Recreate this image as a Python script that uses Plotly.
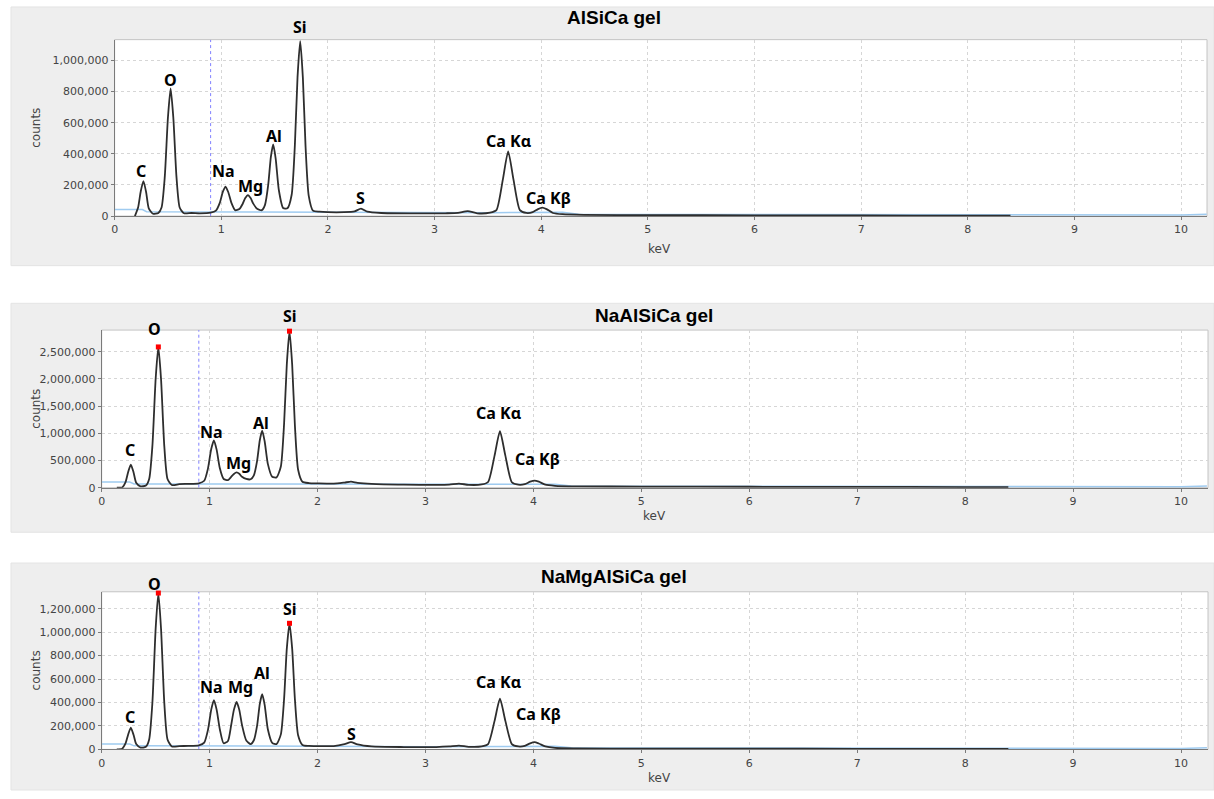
import plotly.graph_objects as go

# --- data (energy in keV, counts in thousands) ---
energy_kev = [
    0.00, 0.14, 0.19, 0.22, 0.245, 0.27, 0.295, 0.32, 0.36, 0.41,
    0.44, 0.47, 0.50, 0.525, 0.55, 0.58, 0.61, 0.65, 0.72, 0.80,
    0.90, 0.95, 0.985, 1.015, 1.04, 1.065, 1.095, 1.13, 1.17, 1.20,
    1.225, 1.25, 1.275, 1.30, 1.34, 1.38, 1.41, 1.44, 1.465, 1.487,
    1.51, 1.54, 1.58, 1.62, 1.66, 1.69, 1.715, 1.74, 1.765, 1.79,
    1.82, 1.86, 1.92, 2.00, 2.15, 2.25, 2.31, 2.37, 2.50, 2.80,
    3.10, 3.22, 3.31, 3.40, 3.52, 3.58, 3.64, 3.69, 3.74, 3.80,
    3.86, 3.92, 3.97, 4.01, 4.05, 4.11, 4.20, 4.40, 5.00, 6.00,
    7.00, 8.00, 8.40,
]

counts_alsica = [
    None, None, 0, 55, 160, 225, 155, 50, 15, 20,
    55, 250, 635, 820, 635, 250, 55, 18, 20, 18,
    22, 35, 83, 157, 190, 155, 85, 38, 45, 78,
    116, 135, 116, 80, 45, 38, 72, 200, 380, 460,
    370, 166, 52, 50, 137, 455, 893, 1125, 890, 450,
    130, 35, 28, 25, 25, 30, 48, 28, 20, 18,
    18, 20, 32, 18, 22, 38, 234, 416, 234, 38,
    20, 25, 45, 55, 45, 20, 12, 8, 6, 5,
    4, 3, 3,
]

counts_naalsica = [
    None, 0, 5, 98, 286, 425, 285, 90, 25, 40,
    158, 772, 2000, 2590, 2000, 770, 160, 50, 65, 70,
    80, 127, 356, 712, 870, 700, 356, 160, 140, 200,
    253, 280, 255, 200, 160, 155, 228, 494, 873, 1050,
    855, 434, 200, 190, 390, 1176, 2263, 2880, 2260, 1150,
    330, 110, 85, 80, 75, 95, 110, 90, 70, 55,
    50, 55, 75, 52, 60, 105, 590, 1040, 590, 100,
    55, 65, 110, 130, 110, 55, 35, 25, 20, 17,
    15, 12, 10,
]

counts_namgalsica = [
    None, 0, 5, 48, 125, 185, 125, 45, 15, 22,
    85, 400, 1029, 1333, 1029, 400, 85, 25, 28, 30,
    35, 58, 168, 339, 420, 339, 170, 52, 72, 208,
    337, 405, 337, 208, 75, 45, 78, 203, 388, 470,
    380, 169, 55, 45, 128, 430, 857, 1075, 857, 430,
    120, 38, 30, 28, 28, 45, 62, 42, 25, 20,
    20, 25, 32, 22, 25, 45, 243, 432, 243, 45,
    25, 30, 52, 62, 50, 25, 12, 8, 6, 6,
    5, 4, 4,
]

# background (blue) line
bg_kev = [0.0, 0.26, 0.30, 1.0, 2.0, 3.0, 3.55, 4.2, 4.35, 6.0, 8.0, 10.0, 10.24]
bg_alsica = [42, 42, 28, 27, 24, 20, 22, 24, 12, 10, 8, 7, 12]
bg_naalsica = [105, 105, 70, 68, 62, 52, 58, 62, 30, 25, 20, 18, 30]
bg_namgalsica = [45, 45, 30, 30, 27, 22, 25, 27, 13, 11, 9, 8, 13]

# marked maxima (keV, counts in thousands)
max_kev_naalsica = [0.525, 1.74]
max_counts_naalsica = [2590, 2880]
max_kev_namgalsica = [0.525, 1.74]
max_counts_namgalsica = [1333, 1075]

marker_kev = 0.9

# peak labels: text, keV, counts (thousands) of label centre
labels_alsica = ["C", "O", "Na", "Mg", "Al", "Si", "S", "Ca Kα", "Ca Kβ"]
label_kev_alsica = [0.25, 0.52, 1.02, 1.27, 1.49, 1.74, 2.31, 3.70, 4.07]
label_cnt_alsica = [287, 873, 287, 191, 516, 1217, 115, 484, 115]

labels_naalsica = ["C", "O", "Na", "Mg", "Al", "Si", "Ca Kα", "Ca Kβ"]
label_kev_naalsica = [0.26, 0.49, 1.013, 1.265, 1.48, 1.748, 3.685, 4.035]
label_cnt_naalsica = [688, 2925, 1027, 462, 1190, 3150, 1370, 530]

labels_namgalsica = ["C", "O", "Na", "Mg", "Al", "Si", "S", "Ca Kα", "Ca Kβ"]
label_kev_namgalsica = [0.265, 0.49, 1.013, 1.286, 1.49, 1.748, 2.31, 3.68, 4.05]
label_cnt_namgalsica = [276, 1409, 530, 530, 648, 1200, 135, 572, 298]

titles = ["AlSiCa gel", "NaAlSiCa gel", "NaMgAlSiCa gel"]

W, H = 1214, 799


def py(p):
    # pixel row -> paper y
    return 1 - p / H


def px(p):
    return p / W


panels = [
    dict(title=titles[0], counts=counts_alsica, bg=bg_alsica,
         mk=None, mc=None,
         labels=labels_alsica, lk=label_kev_alsica, lc=label_cnt_alsica,
         box=(7, 7, 1214, 268), plot=(111, 40, 1207, 218),
         ymax=1.134e6, dtick=200000, xmax=10.243, title_x=612, title_y=18,
         kev_y=251, kev_x=658),
    dict(title=titles[1], counts=counts_naalsica, bg=bg_naalsica,
         mk=max_kev_naalsica, mc=max_counts_naalsica,
         labels=labels_naalsica, lk=label_kev_naalsica, lc=label_cnt_naalsica,
         box=(7, 306, 1214, 537), plot=(98, 333, 1208, 492),
         ymax=2.9e6, dtick=500000, xmax=10.25, title_x=652, title_y=318,
         kev_y=521, kev_x=653),
    dict(title=titles[2], counts=counts_namgalsica, bg=bg_namgalsica,
         mk=max_kev_namgalsica, mc=max_counts_namgalsica,
         labels=labels_namgalsica, lk=label_kev_namgalsica, lc=label_cnt_namgalsica,
         box=(7, 568, 1214, 797), plot=(98, 597, 1208, 756),
         ymax=1.344e6, dtick=200000, xmax=10.25, title_x=612, title_y=582,
         kev_y=785, kev_x=658),
]

fig = go.Figure()
shapes = []
annotations = []
tickfont = dict(family="DejaVu Sans", size=11, color="#444444")
layout_axes = {}

for i, p in enumerate(panels):
    n = "" if i == 0 else str(i + 1)
    xa, ya = "x" + n, "y" + n

    # gray panel and white plot area
    x0, y0, x1, y1 = p["box"]
    shapes.append(dict(type="rect", xref="paper", yref="paper", layer="below",
                       x0=px(x0), x1=px(x1), y0=py(y1), y1=py(y0),
                       fillcolor="#eeeeee", line=dict(color="#e4e4e4", width=1)))
    l, t, r, b = p["plot"]
    shapes.append(dict(type="rect", xref="paper", yref="paper", layer="below",
                       x0=px(l), x1=px(r), y0=py(b), y1=py(t),
                       fillcolor="white", line=dict(color="#c4c4c4", width=1)))

    # background line
    fig.add_trace(go.Scatter(x=bg_kev, y=[v * 1000 for v in p["bg"]], xaxis=xa, yaxis=ya,
                             mode="lines", line=dict(color="#9fcbf0", width=1.5),
                             hoverinfo="skip"))
    # marker line
    fig.add_trace(go.Scatter(x=[marker_kev, marker_kev], y=[0, p["ymax"]], xaxis=xa, yaxis=ya,
                             mode="lines", line=dict(color="#8080ff", width=1, dash="dot"),
                             hoverinfo="skip"))
    # spectrum
    fig.add_trace(go.Scatter(x=energy_kev, y=[None if v is None else v * 1000 for v in p["counts"]],
                             xaxis=xa, yaxis=ya, mode="lines",
                             line=dict(color="#2e2e2e", width=1.8, shape="spline", smoothing=0.6),
                             cliponaxis=True))
    if p["mk"]:
        fig.add_trace(go.Scatter(x=p["mk"], y=[v * 1000 for v in p["mc"]], xaxis=xa, yaxis=ya,
                                 mode="markers", cliponaxis=False,
                                 marker=dict(symbol="square", size=5, color="#ff0000")))

    for txt, k, c in zip(p["labels"], p["lk"], p["lc"]):
        annotations.append(dict(x=k, y=c * 1000 / p["ymax"], xref=xa, yref=ya + " domain",
                                text="<b>" + txt + "</b>", showarrow=False,
                                font=dict(family="Noto Sans", size=16, color="black"),
                                xanchor="center", yanchor="middle"))

    annotations.append(dict(x=px(p["title_x"]), y=py(p["title_y"]), xref="paper", yref="paper",
                            text="<b>" + p["title"] + "</b>", showarrow=False,
                            font=dict(family="Liberation Sans", size=19, color="black"),
                            xanchor="center", yanchor="middle"))
    annotations.append(dict(x=px(p["kev_x"]), y=py(p["kev_y"]), xref="paper", yref="paper",
                            text="keV", showarrow=False, font=dict(family="DejaVu Sans", size=12, color="#444444"),
                            xanchor="center", yanchor="middle"))
    annotations.append(dict(x=px(32), y=py((t + b) / 2), xref="paper", yref="paper",
                            text="counts", showarrow=False, textangle=-90,
                            font=dict(family="DejaVu Sans", size=12, color="#444444"),
                            xanchor="center", yanchor="middle"))

    layout_axes["xaxis" + n] = dict(domain=[px(l), px(r)], anchor=ya, range=[0, p["xmax"]],
                                    tick0=0, dtick=1, showgrid=True, gridcolor="#d6d6d6", griddash="dot",
                                    zeroline=False, showline=True, linecolor="#7a7a7a", linewidth=1,
                                    ticks="outside", ticklen=3, tickcolor="#7a7a7a", tickfont=tickfont)
    layout_axes["yaxis" + n] = dict(domain=[py(b), py(t)], anchor=xa, range=[0, p["ymax"]],
                                    tick0=0, dtick=p["dtick"], tickformat=",d",
                                    showgrid=True, gridcolor="#d6d6d6", griddash="dot",
                                    zeroline=False, showline=True, linecolor="#7a7a7a", linewidth=1,
                                    ticks="outside", ticklen=3, tickcolor="#7a7a7a", tickfont=tickfont)

fig.update_layout(
    width=W, height=H,
    margin=dict(l=0, r=0, t=0, b=0),
    paper_bgcolor="white",
    plot_bgcolor="rgba(0,0,0,0)",
    showlegend=False,
    shapes=shapes,
    annotations=annotations,
    **layout_axes,
)

fig.write_html("out.html", config={"displayModeBar": False},
               post_script="document.body.style.margin='0px';")
